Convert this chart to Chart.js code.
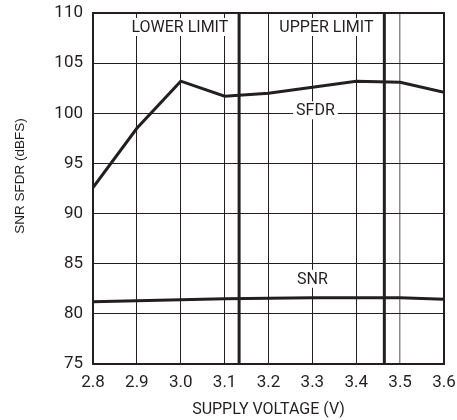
<!DOCTYPE html>
<html lang="en">
<head>
  <meta charset="UTF-8" />
  <title>SNR SFDR vs Supply Voltage</title>
  <script src="https://cdn.jsdelivr.net/npm/chart.js"></script>
  <style>
    body {
      margin: 0;
      background-color: #fff;
    }
    .wrap {
      width: 457px;
      height: 420px;
    }
  </style>
</head>
<body>
  <div class="wrap">
    <canvas id="snrChart" width="457" height="420"></canvas>
  </div>

  <script>
    const voltages = [2.8, 2.9, 3.0, 3.1, 3.2, 3.3, 3.4, 3.5, 3.6];
    const sfdr = [92.6, 98.5, 103.2, 101.7, 102.0, 102.6, 103.2, 103.1, 102.1];
    const snr = [81.2, 81.3, 81.4, 81.5, 81.55, 81.6, 81.6, 81.6, 81.45];
    const limitVoltages = [3.133, 3.464];
    const yRange = [75, 110];

    // text labels inside the plot (data coordinates)
    const noteTexts = ["LOWER LIMIT", "UPPER LIMIT", "SFDR", "SNR"];
    const noteX = [2.998, 3.332, 3.307, 3.30];
    const noteY = [108.6, 108.6, 100.3, 83.5];

    const narrow = "Roboto, 'Liberation Sans', sans-serif";
    const yTitle = "SNR SFDR (dBFS)";

    const toPoints = (xs, ys) => xs.map((x, i) => ({ x: x, y: ys[i] }));

    const limitSets = limitVoltages.map(v => ({
      data: [{ x: v, y: yRange[0] }, { x: v, y: yRange[1] }],
      borderColor: "#231f20",
      borderWidth: 3,
      pointRadius: 0
    }));

    const framePlugin = {
      id: "frame",
      afterDatasetsDraw(chart) {
        const { ctx, chartArea, scales } = chart;
        ctx.save();
        ctx.font = "16px " + narrow;
        ctx.textAlign = "center";
        ctx.textBaseline = "middle";
        noteTexts.forEach((t, i) => {
          const px = scales.x.getPixelForValue(noteX[i]);
          const py = scales.y.getPixelForValue(noteY[i]);
          const w = ctx.measureText(t).width;
          ctx.fillStyle = "#fff";
          ctx.fillRect(px - w / 2 - 3, py - 9, w + 6, 18);
          ctx.fillStyle = "#231f20";
          ctx.fillText(t, px, py + 1);
        });
        ctx.strokeStyle = "#231f20";
        ctx.lineWidth = 2;
        ctx.strokeRect(chartArea.left, chartArea.top, chartArea.right - chartArea.left, chartArea.bottom - chartArea.top);

        // y axis title, placed a bit above the middle like the original
        ctx.translate(20, 176);
        ctx.rotate(-Math.PI / 2);
        ctx.font = "13.5px 'Liberation Sans', Arial, sans-serif";
        ctx.fillStyle = "#231f20";
        ctx.fillText(yTitle, 0, 0);
        ctx.restore();
      }
    };

    new Chart(document.getElementById("snrChart"), {
      type: "line",
      data: {
        datasets: [
          {
            label: "SFDR",
            data: toPoints(voltages, sfdr),
            borderColor: "#231f20",
            borderWidth: 3,
            pointRadius: 0
          },
          {
            label: "SNR",
            data: toPoints(voltages, snr),
            borderColor: "#231f20",
            borderWidth: 3,
            pointRadius: 0
          },
          ...limitSets
        ]
      },
      options: {
        responsive: false,
        animation: false,
        layout: { padding: { top: 13, right: 13, left: 0, bottom: 0 } },
        plugins: {
          legend: { display: false },
          tooltip: { enabled: false }
        },
        scales: {
          x: {
            type: "linear",
            min: 2.8,
            max: 3.6,
            afterFit(scale) {
              scale.height = 56;
              scale.paddingLeft = 0;
              scale.paddingRight = 0;
            },
            ticks: {
              stepSize: 0.1,
              padding: 9,
              color: "#231f20",
              font: { family: narrow, size: 17 },
              callback: v => v.toFixed(1)
            },
            grid: {
              color: ctx => Math.abs(ctx.tick.value - 3.5) < 1e-6 ? "#8a8a8a" : "#231f20",
              lineWidth: ctx => Math.abs(ctx.tick.value - 3.5) < 1e-6 ? 1.5 : 1,
              drawTicks: false
            },
            border: { color: "#231f20", width: 2 },
            title: {
              display: true,
              text: "SUPPLY VOLTAGE (V)",
              color: "#231f20",
              font: { family: narrow, size: 16 },
              padding: { top: 6, bottom: 0 }
            }
          },
          y: {
            min: yRange[0],
            max: yRange[1],
            afterFit(scale) {
              scale.width = 93;
              scale.paddingTop = 0;
              scale.paddingBottom = 0;
            },
            ticks: {
              stepSize: 5,
              padding: 10,
              color: "#231f20",
              font: { family: narrow, size: 17 }
            },
            grid: {
              color: "#231f20",
              lineWidth: 1,
              drawTicks: false
            },
            border: { color: "#231f20", width: 2 }
          }
        }
      },
      plugins: [framePlugin]
    });
  </script>
</body>
</html>
